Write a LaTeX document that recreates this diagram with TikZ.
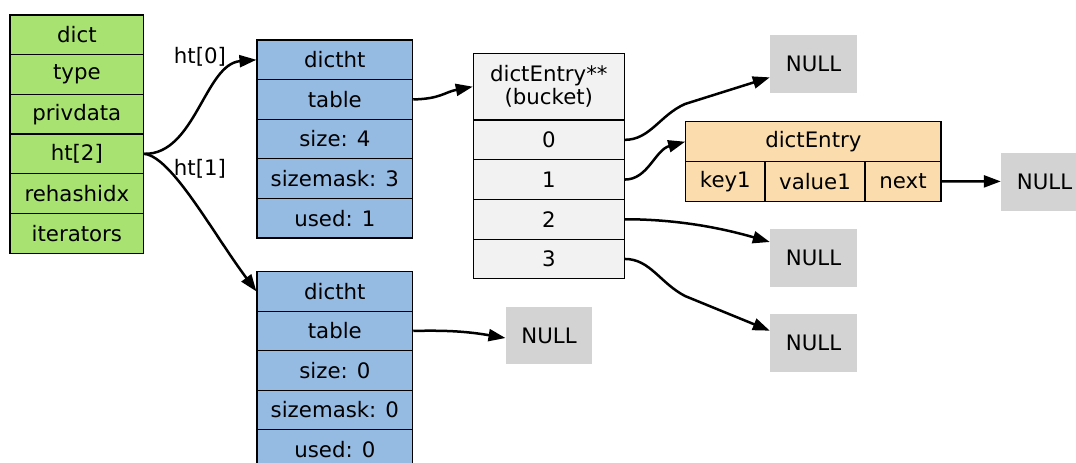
\documentclass[tikz,border=0pt]{standalone}
\usepackage{fontspec}
\setmainfont{DejaVu Sans}
\usetikzlibrary{arrows.meta}
\definecolor{dictgreen}{HTML}{A8E270}
\definecolor{htblue}{HTML}{95BBE3}
\definecolor{bucketgray}{HTML}{F2F2F2}
\definecolor{entryorange}{HTML}{FADCAD}
\definecolor{nullgray}{HTML}{D3D3D3}
\tikzset{
  cell/.style={draw, line width=1.1pt, inner sep=0pt, font=\fontsize{21.3}{25}\selectfont},
  dictcell/.style={cell, fill=dictgreen, minimum width=133.7pt, minimum height=39.7pt},
  htcell/.style={cell, fill=htblue, minimum width=155.7pt, minimum height=39.6pt},
  bkcell/.style={cell, fill=bucketgray, minimum width=151pt, minimum height=39.7pt},
  encell/.style={cell, fill=entryorange, minimum height=39.5pt},
  nullbox/.style={fill=nullgray, inner sep=0pt, minimum width=87pt, minimum height=58pt, font=\fontsize{21.3}{25}\selectfont},
  lbl/.style={inner sep=0pt, font=\fontsize{21.3}{25}\selectfont},
  arr/.style={line width=2.5pt, -{Triangle[length=17pt,width=12pt]}}
}
\begin{document}
\begin{tikzpicture}[x=1pt,y=-1pt]
\useasboundingbox (0,0) rectangle (1076,463);
% dict
\node[dictcell] (d0) at (76.85,34.8) {dict};
\node[dictcell] (d1) at (76.85,74.5) {type};
\node[dictcell] (d2) at (76.85,114.2) {privdata};
\node[dictcell] (d3) at (76.85,153.8) {ht[2]};
\node[dictcell] (d4) at (76.85,193.5) {rehashidx};
\node[dictcell] (d5) at (76.85,233.2) {iterators};
% dictht 0
\node[htcell] (a0) at (334.85,59.8) {dictht};
\node[htcell] (a1) at (334.85,99.4) {table};
\node[htcell] (a2) at (334.85,139) {size: 4};
\node[htcell] (a3) at (334.85,178.6) {sizemask: 3};
\node[htcell] (a4) at (334.85,218.2) {used: 1};
% dictht 1
\node[htcell] (b0) at (334.85,291.45) {dictht};
\node[htcell] (b1) at (334.85,330.95) {table};
\node[htcell] (b2) at (334.85,370.45) {size: 0};
\node[htcell] (b3) at (334.85,409.95) {sizemask: 0};
\node[htcell] (b4) at (334.85,449.45) {used: 0};
% bucket
\node[bkcell, minimum height=66.7pt, align=center] (bh) at (548.8,86.65) {dictEntry**\\[-2pt](bucket)};
\node[bkcell] (k0) at (548.8,139.85) {0};
\node[bkcell] (k1) at (548.8,179.55) {1};
\node[bkcell] (k2) at (548.8,219.25) {2};
\node[bkcell] (k3) at (548.8,258.95) {3};
% dictEntry
\node[encell, minimum width=255.3pt, minimum height=40pt] (eh) at (813.35,141.7) {dictEntry};
\node[encell, minimum width=79.3pt] (ek) at (725.35,181.35) {key1};
\node[encell, minimum width=100pt] (ev) at (815,181.35) {value1};
\node[encell, minimum width=76pt] (en) at (903,181.35) {next};
% NULLs
\node[nullbox] (n0) at (813.5,64.35) {NULL};
\node[nullbox] (nn) at (1044.5,182) {NULL};
\node[nullbox] (n2) at (813.5,258) {NULL};
\node[nullbox] (n3) at (813.5,343.3) {NULL};
\node[nullbox, minimum width=86.6pt, minimum height=57.6pt] (nt) at (549,335.5) {NULL};
% labels
\node[lbl] (l0) at (200,57) {ht[0]};
\node[lbl] (l1) at (200,169) {ht[1]};
% edges
\draw[arr] (d3.east) .. controls (195,155) and (205,64) .. (a0.west);
\draw[arr] (d3.east) .. controls (172,157) and (212,232) .. (b0.west);
\draw[arr] (a1.east) .. controls (440,99) and (445,92) .. (bh.west);
\draw[arr] (b1.east) .. controls (450,330) and (470,332) .. ([yshift=-2.5pt]nt.west);
\draw[arr] (k0.east) .. controls (650,139.85) and (660,115) .. (685,104) -- ([yshift=-13pt]n0.west);
\draw[arr] (k1.east) .. controls (648,179.55) and (655,150) .. (eh.west);
\draw[arr] (k2.east) .. controls (680,219.25) and (725,229) .. ([yshift=16pt]n2.west);
\draw[arr] (k3.east) .. controls (650,258.95) and (660,283) .. (685,296) -- ([yshift=12.6pt]n3.west);
\draw[arr] (en.east) -- ([yshift=0.6pt]nn.west);
\end{tikzpicture}
\end{document}
